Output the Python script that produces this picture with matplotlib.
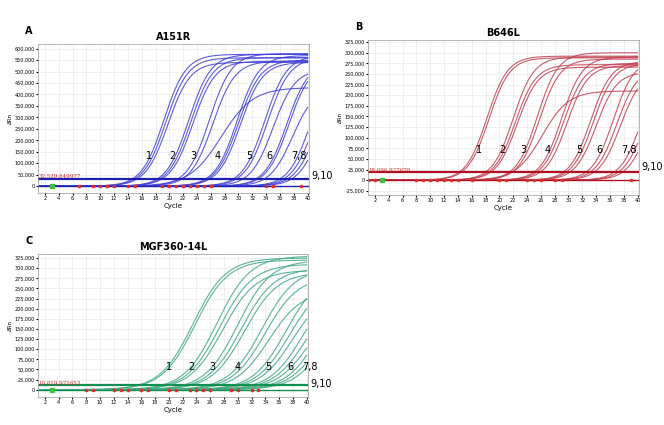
import numpy as np
import matplotlib.pyplot as plt

# panel A: A151R  (midpoint cycle, plateau, slope)
a_mid = [19.2, 19.5, 19.8, 22.8, 23.1, 23.4, 25.8, 26.3, 27.5, 29.8, 30.0, 30.3,
         33.8, 34.2, 35.0, 37.0, 37.3, 37.8, 40.5, 41.0, 41.5, 42.0]
a_plat = [575e3, 560e3, 540e3, 575e3, 560e3, 545e3, 578e3, 545e3, 430e3, 570e3, 550e3, 540e3,
          570e3, 560e3, 510e3, 545e3, 540e3, 430e3, 560e3, 540e3, 520e3, 500e3]
a_slope = [1.6] * 8 + [2.3] + [1.6] * 13
a_thr = 32529.849977

# panel B: B646L
b_mid = [18.2, 18.5, 22.0, 22.3, 22.6, 25.5, 25.8, 26.2, 29.0, 29.3, 29.8,
         33.2, 33.6, 34.0, 36.5, 37.0, 37.5, 40.5, 41.0, 41.5]
b_plat = [292e3, 288e3, 290e3, 272e3, 266e3, 300e3, 285e3, 210e3, 290e3, 275e3, 270e3,
          280e3, 275e3, 255e3, 285e3, 265e3, 255e3, 270e3, 255e3, 240e3]
b_slope = [1.5] * 7 + [1.9] + [1.5] * 12
b_thr = 18096.927678

# panel C: MGF360-14L
c_mid = [23.5, 23.8, 27.0, 27.4, 27.8, 30.0, 30.5, 31.0, 33.5, 34.0, 34.5,
         37.0, 37.5, 38.0, 39.5, 40.0, 40.5, 42.0, 42.5, 43.0]
c_plat = [325e3, 320e3, 330e3, 310e3, 295e3, 320e3, 300e3, 290e3, 300e3, 280e3, 245e3,
          290e3, 270e3, 250e3, 270e3, 250e3, 230e3, 280e3, 260e3, 240e3]
c_slope = [2.4] * 20
c_thr = 10819.971653

group_labels = ["1", "2", "3", "4", "5", "6", "7,8"]
a_label_x = [17, 20.5, 23.5, 27, 31.5, 34.5, 38.7]
b_label_x = [17, 20.5, 23.5, 27, 31.5, 34.5, 38.7]
c_label_x = [20, 23.3, 26.3, 30, 34.5, 37.7, 40.5]

a_marks = [7, 9, 10, 11, 12, 14, 15, 19, 20, 21, 22, 23, 24, 25, 26, 34, 35, 39]
b_marks = [1, 2, 8, 9, 10, 11, 12, 13, 14, 16, 20, 21, 24, 25, 26, 28, 29, 39]
c_marks = [8, 9, 12, 13, 14, 16, 17, 20, 21, 23, 24, 25, 26, 29, 30, 32, 33]

fig = plt.figure(figsize=(6.64, 4.25), dpi=100)
W, H = 664, 425


def panel(box, mid, plat, slope, thr, color, dark, ylim, yticks, title, letter, lab_x, marks, lab_y, thr_txt_y):
    l, t, r, b = box
    ax = fig.add_axes([l / W, 1 - b / H, (r - l) / W, (b - t) / H])
    xs = np.linspace(1, 40, 300)
    for m, p, s in zip(mid, plat, slope):
        ax.plot(xs, p / (1 + np.exp(-(xs - m) / s)), color=color, lw=0.8, alpha=0.85)
    ax.axhline(0, color=dark, lw=1.0)
    ax.axhline(thr, color=dark, lw=1.6)
    ax.plot(marks, [0] * len(marks), 's', color='#e03030', ms=2)
    ax.plot([3], [0], 's', color='#40c040', ms=2.5)
    ax.text(1.1, thr, f"{thr:,.6f}", color='#d02020', fontsize=4, va='bottom', family='serif')
    for lx, lab in zip(lab_x, group_labels):
        ax.text(lx, lab_y, lab, fontsize=7, ha='center', va='center', fontweight='medium')
    ax.text(40.5, thr_txt_y, "9,10", fontsize=7, va='center', clip_on=False)
    ax.set_xlim(1, 40.2)
    ax.set_ylim(*ylim)
    ax.set_xticks(range(2, 41, 2))
    ax.set_yticks(yticks)
    ax.set_yticklabels([f"{v:,}" for v in yticks])
    ax.tick_params(labelsize=3.5, length=1.5, pad=1)
    ax.grid(color='#e4e4e4', lw=0.4)
    ax.set_ylabel("ΔRn", fontsize=4, labelpad=1)
    ax.set_xlabel("Cycle", fontsize=5, labelpad=1)
    ax.set_title(title, fontsize=7, fontweight='bold', pad=3)
    for sp in ax.spines.values():
        sp.set_color('#999999')
        sp.set_linewidth(0.5)
    fig.text((l - 13) / W, 1 - (t - 10) / H, letter, fontsize=7, fontweight='bold')
    return ax


panel((38, 44, 309, 193), a_mid, a_plat, a_slope, a_thr, '#4040d8', '#2020b0',
      (-30000, 620000), list(range(0, 600001, 50000)), "A151R", "A", a_label_x, a_marks, 130000, 45000)
panel((368, 40, 639, 195), b_mid, b_plat, b_slope, b_thr, '#c04050', '#b01020',
      (-35000, 330000), list(range(-25000, 325001, 25000)), "B646L", "B", b_label_x, b_marks, 72000, 30000)
panel((38, 254, 308, 397), c_mid, c_plat, c_slope, c_thr, '#40a880', '#109050',
      (-18000, 335000), list(range(0, 325001, 25000)), "MGF360-14L", "C", c_label_x, c_marks, 55000, 15000)

fig.savefig("out.png", dpi=100)
